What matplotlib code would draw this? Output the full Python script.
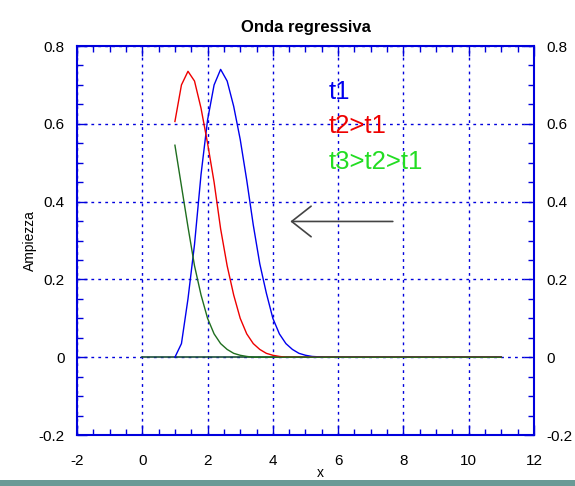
import numpy as np
import matplotlib
matplotlib.use('Agg')
import matplotlib.pyplot as plt
from matplotlib.ticker import MultipleLocator, FixedLocator, FixedFormatter
from matplotlib.patches import Rectangle

plt.rcParams['font.family'] = ['Liberation Sans', 'DejaVu Sans']
plt.rcParams['axes.unicode_minus'] = False

# sampled wave profiles (x from 1 to 11, step 0.2)
x = np.linspace(1, 11, 51)
blue_vals = [0.0, 0.035, 0.15, 0.29, 0.47, 0.61, 0.70, 0.74, 0.71, 0.645, 0.56,
             0.455, 0.34, 0.24, 0.165, 0.10, 0.06, 0.035, 0.02, 0.01, 0.005,
             0.002, 0.001]
red_vals = [0.606, 0.70, 0.735, 0.71, 0.64, 0.55, 0.45, 0.33, 0.235, 0.16, 0.10,
            0.06, 0.035, 0.02, 0.01, 0.005, 0.002]
green_vals = [0.545, 0.44, 0.335, 0.235, 0.16, 0.10, 0.06, 0.035, 0.02, 0.01,
              0.005, 0.002]

def pad(v):
    return np.array(v + [0.0] * (len(x) - len(v)))

t1 = pad(blue_vals)
t2 = pad(red_vals)
t3 = pad(green_vals)

base_x = [0, 11]
base_y = [0, 0]

xticks = [-2, 0, 2, 4, 6, 8, 10, 12]
yticks = [-0.2, 0, 0.2, 0.4, 0.6, 0.8]
ylabels = ['-0.2', '0', '0.2', '0.4', '0.6', '0.8']

fig = plt.figure(figsize=(5.75, 4.86), dpi=100)
ax = fig.add_axes([0.1339, 0.1049, 0.7948, 0.8004])

ax.plot(base_x, base_y, color='#1c4f3c', lw=1.2)
ax.plot(x, t1, color='#0000ee', lw=1.0)
ax.plot(x, t2, color='#ee0000', lw=1.0)
ax.plot(x, t3, color='#1f6e1f', lw=1.0)

ax.set_xlim(-2, 12)
ax.set_ylim(-0.2, 0.8)
ax.xaxis.set_major_locator(FixedLocator(xticks))
ax.xaxis.set_minor_locator(MultipleLocator(0.5))
ax.yaxis.set_major_locator(FixedLocator(yticks))
ax.yaxis.set_major_formatter(FixedFormatter(ylabels))
ax.yaxis.set_minor_locator(MultipleLocator(0.05))

ax.grid(True, which='major', color='#0000dd', ls=(0, (2, 3)), lw=1.0)
ax.tick_params(which='both', direction='in', top=True, right=True,
               labelright=True, color='#0000dd', labelsize=11)
ax.tick_params(axis='y', which='major', pad=9)
ax.tick_params(axis='x', which='major', pad=14)
ax.tick_params(which='major', length=7, width=1)
ax.tick_params(which='minor', length=4, width=1)
for s in ax.spines.values():
    s.set_color('#0000dd')
    s.set_linewidth(1.5)

ax.set_title('Onda regressiva', fontsize=12, fontweight='bold', pad=10)
ax.set_ylabel('Ampiezza', fontsize=10, labelpad=1)
ax.set_xlabel('x', fontsize=10, labelpad=-2)
ax.xaxis.label.set_x(0.532)

ax.text(5.7, 0.682, 't1', color='#0000ee', fontsize=18.5, va='center')
ax.text(5.7, 0.595, 't2>t1', color='#ee0000', fontsize=18.5, va='center')
ax.text(5.7, 0.502, 't3>t2>t1', color='#22dd22', fontsize=18.5, va='center')

ax.annotate('', xy=(4.45, 0.349), xytext=(7.76, 0.349),
            arrowprops=dict(arrowstyle='->,head_length=1.4,head_width=1.1',
                            color='#444444', lw=1.2))

fig.patches.append(Rectangle((0, 0), 1, 6 / 486, transform=fig.transFigure,
                             facecolor='#6a9a96', edgecolor='none'))

fig.savefig('out.png', dpi=100)
